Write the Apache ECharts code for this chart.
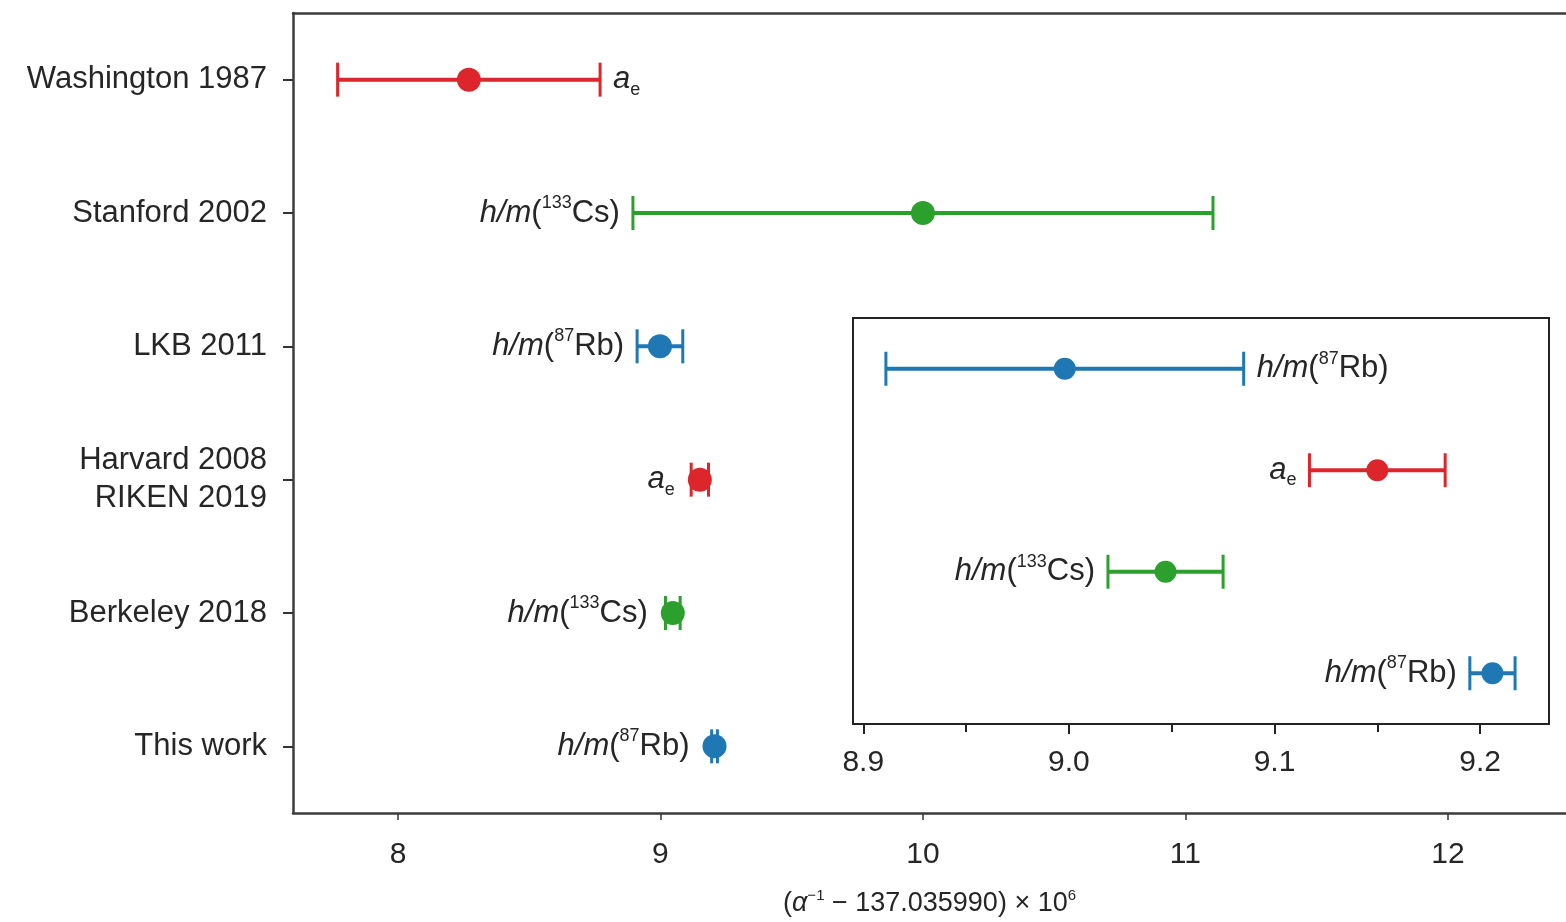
<!DOCTYPE html>
<html>
<head>
<meta charset="utf-8">
<script src="https://cdn.jsdelivr.net/npm/echarts@6/dist/echarts.min.js"></script>
<style>
html,body{margin:0;padding:0;background:#fff;}
#chart{width:1566px;height:922px;}
</style>
</head>
<body>
<div id="chart"></div>
<script>
// ---- data ----
const categories = ['Washington 1987', 'Stanford 2002', 'LKB 2011', 'Harvard 2008\nRIKEN 2019', 'Berkeley 2018', 'This work'];
const centers = [8.27, 10.00, 8.998, 9.150, 9.047, 9.206];
const errors = [0.50, 1.105, 0.087, 0.033, 0.028, 0.011];
const methods = ['ae', 'cs', 'rb', 'ae', 'cs', 'rb'];
const insetRows = [2, 3, 4, 5];
const mainTickValues = [8, 9, 10, 11, 12];
const insetTickValues = [8.9, 9.0, 9.1, 9.2];
const insetMinorTickValues = [8.95, 9.05, 9.15];

// ---- config ----
const FONT = 'Liberation Sans, Arial, Helvetica, sans-serif';
const FS = 31;
const TFS = 30;
const TXT = '#262626';
const methodColor = { ae: '#dc262b', cs: '#2ca02c', rb: '#1f77b4' };
const methodText = {
  ae: '{i|a}{sub|e}',
  cs: '{i|h/m}{n|(}{sup|133}{n|Cs)}',
  rb: '{i|h/m}{n|(}{sup|87}{n|Rb)}'
};
const rich = {
  i: { fontSize: FS, fontFamily: FONT, fontStyle: 'italic', fill: TXT },
  n: { fontSize: FS, fontFamily: FONT, fill: TXT },
  sup: { fontSize: 18, fontFamily: FONT, fill: TXT, padding: [0, 0, 20, 0] },
  sub: { fontSize: 18, fontFamily: FONT, fill: TXT, padding: [20, 0, 0, 0] }
};
const mainLabelSide = ['right', 'left', 'left', 'left', 'left', 'left'];
const insetLabelSide = ['right', 'left', 'left', 'left'];

function makeRender(sides, r, capH) {
  return function (params, api) {
    const i = params.dataIndex;
    const c = api.value(0), e = api.value(1), cat = api.value(2);
    const m = methods[api.value(3)];
    const col = methodColor[m];
    const pc = api.coord([c, cat]);
    const pl = api.coord([c - e, cat]);
    const pr = api.coord([c + e, cat]);
    const y = pc[1];
    const gap = 13;
    const side = sides[i];
    let tx, align;
    if (side === 'right') {
      tx = Math.max(pr[0], pc[0] + r) + gap; align = 'left';
    } else {
      tx = Math.min(pl[0], pc[0] - r) - gap; align = 'right';
    }
    return {
      type: 'group',
      children: [
        { type: 'line', shape: { x1: pl[0], y1: y, x2: pr[0], y2: y }, style: { stroke: col, lineWidth: 4 } },
        { type: 'line', shape: { x1: pl[0], y1: y - capH, x2: pl[0], y2: y + capH }, style: { stroke: col, lineWidth: 3 } },
        { type: 'line', shape: { x1: pr[0], y1: y - capH, x2: pr[0], y2: y + capH }, style: { stroke: col, lineWidth: 3 } },
        { type: 'circle', shape: { cx: pc[0], cy: y, r: r }, style: { fill: col } },
        { type: 'text', x: tx, y: y, style: { text: methodText[m], rich: rich, fontSize: FS, fontFamily: FONT, fill: TXT, align: align, verticalAlign: 'middle' } }
      ]
    };
  };
}

const mainData = categories.map((_, i) => [centers[i], errors[i], i, i]);
const insetData = insetRows.map((k, j) => [centers[k], errors[k], j, k]);

const frameLine = { show: true, lineStyle: { color: '#3c3c3c', width: 2.5 } };

const chart = echarts.init(document.getElementById('chart'), null, { renderer: 'canvas' });
chart.setOption({
  animation: false,
  backgroundColor: '#fff',
  grid: [
    { left: 293, top: 13, right: 0, height: 802, show: false },
    { left: 853, top: 318, width: 696, height: 406, show: true, borderColor: '#222', borderWidth: 2, backgroundColor: '#fff', z: 5 }
  ],
  xAxis: [
    {
      type: 'value', gridIndex: 0, min: 7.6, max: 12.45, position: 'bottom',
      splitLine: { show: false },
      axisLine: frameLine,
      axisTick: { show: true, length: 7, lineStyle: { color: '#333', width: 1.5 }, customValues: mainTickValues },
      axisLabel: { customValues: mainTickValues, fontSize: TFS, fontFamily: FONT, color: TXT, margin: 27 },
      name: '({it|α}{sup|−1} − 137.035990) × 10{sup|6}',
      nameLocation: 'middle', nameGap: 75,
      nameTextStyle: {
        fontSize: 27, fontFamily: FONT, color: TXT,
        rich: {
          it: { fontSize: 27, fontFamily: FONT, fontStyle: 'italic', color: TXT },
          sup: { fontSize: 15, fontFamily: FONT, color: TXT, padding: [0, 0, 16, 0] }
        }
      }
    },
    {
      type: 'value', gridIndex: 0, min: 7.6, max: 12.45, position: 'top',
      splitLine: { show: false },
      axisLine: frameLine,
      axisTick: { show: false },
      axisLabel: { show: false }
    },
    {
      type: 'value', gridIndex: 1, min: 8.895, max: 9.2335, position: 'bottom',
      splitLine: { show: false },
      axisLine: { show: false },
      axisTick: { show: true, length: 10, lineStyle: { color: '#222', width: 2 }, customValues: insetTickValues },
      axisLabel: { customValues: insetTickValues, formatter: v => v.toFixed(1), fontSize: TFS, fontFamily: FONT, color: TXT, margin: 24 },
      z: 6
    },
    {
      type: 'value', gridIndex: 1, min: 8.895, max: 9.2335, position: 'bottom',
      splitLine: { show: false },
      axisLine: { show: false },
      axisTick: { show: true, length: 8, lineStyle: { color: '#222', width: 2 }, customValues: insetMinorTickValues },
      axisLabel: { show: false },
      z: 6
    }
  ],
  yAxis: [
    {
      type: 'category', gridIndex: 0, data: categories, inverse: true,
      axisLine: frameLine,
      axisTick: { show: true, alignWithLabel: true, length: 10, lineStyle: { color: '#333', width: 2 } },
      axisLabel: { fontSize: FS, fontFamily: FONT, color: TXT, margin: 26, lineHeight: 38, align: 'right' },
      splitLine: { show: false }
    },
    {
      type: 'category', gridIndex: 1, data: insetRows.map(k => categories[k]), inverse: true,
      axisLine: { show: false }, axisTick: { show: false }, axisLabel: { show: false },
      splitLine: { show: false }
    }
  ],
  series: [
    {
      type: 'custom', xAxisIndex: 0, yAxisIndex: 0, data: mainData,
      renderItem: makeRender(mainLabelSide, 12, 17), z: 3
    },
    {
      type: 'custom', xAxisIndex: 2, yAxisIndex: 1, data: insetData,
      renderItem: makeRender(insetLabelSide, 11, 17), z: 10
    }
  ]
});
</script>
</body>
</html>
